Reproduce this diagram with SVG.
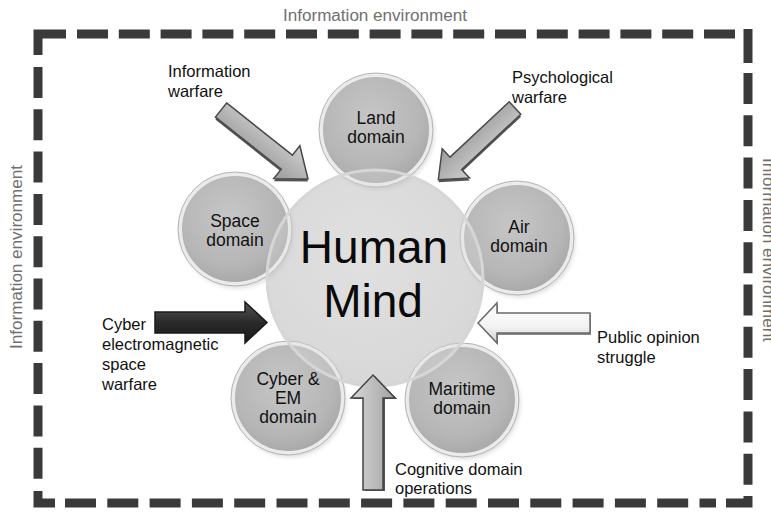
<svg xmlns="http://www.w3.org/2000/svg" width="771" height="517" viewBox="0 0 771 517">
  <style>
    .lbl { font-family: "Liberation Sans", Arial, sans-serif; font-size: 16.5px; fill: #111; }
    .dom { font-family: "Liberation Sans", Arial, sans-serif; font-size: 17.5px; fill: #111; text-anchor: middle; }
    .env { font-family: "Liberation Sans", Arial, sans-serif; font-size: 16px; fill: #707070; text-anchor: middle; }
    .big { font-family: "Liberation Sans", Arial, sans-serif; font-size: 46px; fill: #0a0a0a; text-anchor: middle; }
    .border { fill: none; stroke: #3a3a3a; stroke-width: 9; }
    .sat { fill: url(#satFill); stroke: #ebebeb; stroke-width: 4; }
    .satEdge { fill: none; stroke: #b3b3b3; stroke-width: 1; }
    .shadow { fill: #8a8a8a; opacity: 0.3; filter: url(#soft); }
  </style>
  <defs>
    <radialGradient id="satFill" cx="45%" cy="38%" r="65%">
      <stop offset="0" stop-color="#c6c6c6"/>
      <stop offset="0.7" stop-color="#b6b6b6"/>
      <stop offset="1" stop-color="#a6a6a6"/>
    </radialGradient>
    <radialGradient id="mindFill" cx="45%" cy="40%" r="65%">
      <stop offset="0" stop-color="#e2e2e2"/>
      <stop offset="1" stop-color="#d4d4d4"/>
    </radialGradient>
    <linearGradient id="greyArrow" x1="0" y1="0" x2="0" y2="1">
      <stop offset="0" stop-color="#cfcfcf"/>
      <stop offset="1" stop-color="#9a9a9a"/>
    </linearGradient>
    <linearGradient id="darkArrow" x1="0" y1="0" x2="0" y2="1">
      <stop offset="0" stop-color="#555"/>
      <stop offset="0.5" stop-color="#2a2a2a"/>
      <stop offset="1" stop-color="#1a1a1a"/>
    </linearGradient>
    <linearGradient id="lightArrow" x1="0" y1="0" x2="0" y2="1">
      <stop offset="0" stop-color="#ffffff"/>
      <stop offset="0.6" stop-color="#f2f2f2"/>
      <stop offset="1" stop-color="#cfcfcf"/>
    </linearGradient>
    <linearGradient id="upArrow" x1="0" y1="0" x2="1" y2="0">
      <stop offset="0" stop-color="#d6d6d6"/>
      <stop offset="1" stop-color="#a3a3a3"/>
    </linearGradient>
    <filter id="soft" x="-20%" y="-20%" width="140%" height="140%">
      <feGaussianBlur stdDeviation="2"/>
    </filter>
  </defs>

  <rect width="771" height="517" fill="#ffffff"/>

  <!-- dashed frame -->
  <g id="frame">
    <path class="border" d="M38,55 V34 H66"/>
    <path class="border" d="M77,34 H735" stroke-dasharray="31 10.8"/>
    <path class="border" d="M748,29 V63"/>
    <path class="border" d="M748,73 V486" stroke-dasharray="31 11.3"/>
    <path class="border" d="M748,496 V503 H726"/>
    <path class="border" d="M38,67 V480" stroke-dasharray="31 11.3"/>
    <path class="border" d="M38,491 V503 H55"/>
    <path class="border" d="M65,503 H716" stroke-dasharray="31 11.3"/>
  </g>

  <g id="env-labels">
    <text class="env" x="375" y="21" textLength="184" lengthAdjust="spacingAndGlyphs">Information environment</text>
    <text class="env" transform="translate(22,257) rotate(-90)" textLength="184" lengthAdjust="spacingAndGlyphs">Information environment</text>
    <text class="env" transform="translate(763,250) rotate(90)" textLength="184" lengthAdjust="spacingAndGlyphs">Information environment</text>
  </g>

  <!-- Human Mind base disc -->
  <g id="mind">
    <circle cx="375" cy="278" r="108" fill="url(#mindFill)"/>
  </g>

  <!-- domain circles -->
  <g id="land">
    <circle class="shadow" cx="378" cy="133" r="56"/>
    <circle class="sat" cx="376" cy="130" r="55"/>
    <circle class="satEdge" cx="376" cy="130" r="57"/>
    <text class="dom" x="376" y="124">Land</text>
    <text class="dom" x="376" y="143">domain</text>
  </g>
  <g id="air">
    <circle class="shadow" cx="519" cy="241" r="56"/>
    <circle class="sat" cx="517" cy="238" r="55"/>
    <circle class="satEdge" cx="517" cy="238" r="57"/>
    <text class="dom" x="519" y="233">Air</text>
    <text class="dom" x="519" y="252">domain</text>
  </g>
  <g id="maritime">
    <circle class="shadow" cx="464" cy="403" r="56"/>
    <circle class="sat" cx="462" cy="400" r="55"/>
    <circle class="satEdge" cx="462" cy="400" r="57"/>
    <text class="dom" x="462" y="395">Maritime</text>
    <text class="dom" x="462" y="414">domain</text>
  </g>
  <g id="cyber-em">
    <circle class="shadow" cx="290" cy="401" r="56"/>
    <circle class="sat" cx="288" cy="398" r="55"/>
    <circle class="satEdge" cx="288" cy="398" r="57"/>
    <text class="dom" x="288" y="385">Cyber &amp;</text>
    <text class="dom" x="288" y="404">EM</text>
    <text class="dom" x="288" y="423">domain</text>
  </g>
  <g id="space">
    <circle class="shadow" cx="237" cy="232" r="56"/>
    <circle class="sat" cx="235" cy="229" r="55"/>
    <circle class="satEdge" cx="235" cy="229" r="57"/>
    <text class="dom" x="235" y="227">Space</text>
    <text class="dom" x="235" y="246">domain</text>
  </g>

  <!-- translucent overlay of the central disc over its neighbours -->
  <g id="mind-overlay">
    <circle cx="375" cy="278" r="108" fill="#dedede" fill-opacity="0.3" stroke="#d6d6d6" stroke-width="3"/>
    <text class="big" x="374" y="263">Human</text>
    <text class="big" x="373" y="317">Mind</text>
  </g>

  <!-- block arrows -->
  <g id="connectors">
    <g transform="translate(221,110) rotate(38.4)">
      <path d="M0,-9 H84 V-21 L111,0 L84,21 V9 H0 Z" fill="#555" transform="translate(1.5,2)"/>
      <path d="M0,-9 H84 V-21 L111,0 L84,21 V9 H0 Z" fill="url(#greyArrow)" stroke="#4a4a4a" stroke-width="1.5"/>
    </g>
    <g transform="translate(515,108) rotate(136.9)">
      <path d="M0,-8.5 H81 V-20 L105,0 L81,20 V8.5 H0 Z" fill="#555" transform="translate(1.5,-2)"/>
      <path d="M0,-8.5 H81 V-20 L105,0 L81,20 V8.5 H0 Z" fill="url(#greyArrow)" stroke="#4a4a4a" stroke-width="1.5"/>
    </g>
    <path d="M155,312 H245 V302 L267,322.5 L245,343 V333 H155 Z" fill="url(#darkArrow)" stroke="#1a1a1a" stroke-width="1.5"/>
    <path d="M591,315 H498 V305 L480,325 L498,345 V335 H591 Z" fill="#888"/>
    <path d="M590,313 H497 V303 L478,323 L497,343 V333 H590 Z" fill="url(#lightArrow)" stroke="#6a6a6a" stroke-width="1.5"/>
    <path d="M365,491 V399 H353 L375,376 L397,399 H385 V491 Z" fill="#555"/>
    <path d="M363,490 V398 H351 L373,375 L395,398 H383 V490 Z" fill="url(#upArrow)" stroke="#444" stroke-width="1.5"/>
  </g>

  <!-- arrow captions -->
  <g id="captions">
    <text class="lbl" x="168" y="77">Information</text>
    <text class="lbl" x="168" y="97">warfare</text>
    <text class="lbl" x="512" y="83">Psychological</text>
    <text class="lbl" x="512" y="103">warfare</text>
    <text class="lbl" x="102" y="330">Cyber</text>
    <text class="lbl" x="102" y="350">electromagnetic</text>
    <text class="lbl" x="102" y="370">space</text>
    <text class="lbl" x="102" y="390">warfare</text>
    <text class="lbl" x="597" y="343">Public opinion</text>
    <text class="lbl" x="597" y="363">struggle</text>
    <text class="lbl" x="395" y="475">Cognitive domain</text>
    <text class="lbl" x="395" y="494">operations</text>
  </g>
</svg>
